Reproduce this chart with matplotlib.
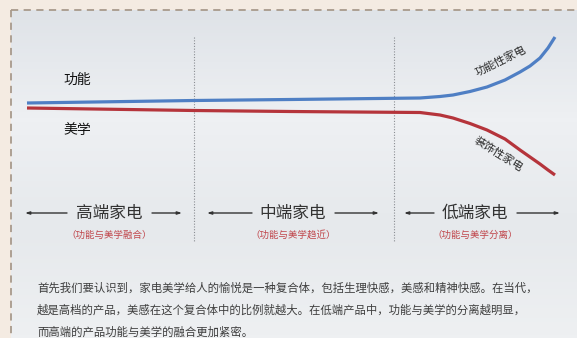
import numpy as np
import matplotlib.pyplot as plt
from matplotlib.colors import LinearSegmentedColormap

plt.rcParams['font.family'] = ['Noto Sans CJK SC', 'DejaVu Sans']

# curves (x along the timeline, y downwards like the picture)
x_func = [27, 194, 290, 420, 440, 453, 470, 487, 505, 520, 530, 540, 548, 555]
y_func = [103, 100.5, 99.5, 98, 96.5, 95, 91.5, 87, 80, 72, 66, 58, 48, 37]
x_aes = [27, 194, 290, 420, 440, 453, 470, 487, 505, 520, 530, 540, 548, 555]
y_aes = [108, 110.5, 111.5, 112.5, 115, 118, 123.5, 130, 139, 150, 157, 164, 170, 175]

segments = ['高端家电', '中端家电', '低端家电']
sublabels = ['（功能与美学融合）', '（功能与美学趋近）', '（功能与美学分离）']
seg_centers = [109, 293, 475]
arrows_left = [(25, 67), (207, 252), (404, 434)]
arrows_right = [(152, 182), (335, 379), (517, 560)]
dividers = [194, 394]

body = ['首先我们要认识到，家电美学给人的愉悦是一种复合体，包括生理快感，美感和精神快感。在当代，',
        '越是高档的产品，美感在这个复合体中的比例就越大。在低端产品中，功能与美学的分离越明显，',
        '而高端的产品功能与美学的融合更加紧密。']

fig = plt.figure(figsize=(5.77, 3.38), dpi=100)
fig.patch.set_facecolor('#f4ebe2')
ax = fig.add_axes([0, 0, 1, 1])
ax.set_xlim(0, 577)
ax.set_ylim(338, 0)
ax.axis('off')

# panel background, soft vertical gradient
cmap = LinearSegmentedColormap.from_list('bg', ['#dfe3e8', '#eef0f3', '#e6e9ec', '#eef0f2'])
grad = np.linspace(0, 1, 100).reshape(-1, 1)
ax.imshow(grad, cmap=cmap, extent=(11, 577, 338, 10), aspect='auto', zorder=0)

# dashed border
ax.plot([11, 577], [10, 10], color='#a89a8c', lw=1.3, dashes=(4, 3), zorder=1)
ax.plot([11, 11], [10, 338], color='#a89a8c', lw=1.3, dashes=(4, 3), zorder=1)

# dotted dividers
for d in dividers:
    ax.plot([d, d], [37, 242], color='#8a8d92', lw=0.8, ls=(0, (1, 1.5)), zorder=2)

ax.plot(x_func, y_func, color='#4f7fc4', lw=2.3, solid_capstyle='butt', solid_joinstyle='round', zorder=3)
ax.plot(x_aes, y_aes, color='#b5343b', lw=2.3, solid_capstyle='butt', solid_joinstyle='round', zorder=3)

ax.text(77, 80, '功能', fontsize=10, color='#111111', ha='center', va='center')
ax.text(77, 130, '美学', fontsize=10, color='#111111', ha='center', va='center')
ax.text(501, 61, '功能性家电', fontsize=8, color='#2a2a2a', ha='center', va='center', rotation=26)
ax.text(499, 154, '装饰性家电', fontsize=8, color='#2a2a2a', ha='center', va='center', rotation=-32)

arrow_kw = dict(arrowstyle='-|>,head_length=0.25,head_width=0.08', color='#333333', lw=1.0,
                shrinkA=0, shrinkB=0)
for name, sub, cx, (l0, l1), (r0, r1) in zip(segments, sublabels, seg_centers, arrows_left, arrows_right):
    ax.text(cx, 213, name, fontsize=12, color='#333333', ha='center', va='center')
    ax.text(cx, 235, sub, fontsize=6.8, color='#c0454a', ha='center', va='center')
    ax.annotate('', xy=(l0, 213), xytext=(l1, 213), arrowprops=arrow_kw)
    ax.annotate('', xy=(r1, 213), xytext=(r0, 213), arrowprops=arrow_kw)

for i, line in enumerate(body):
    ax.text(37, 288 + 22 * i, line, fontsize=8.2, color='#3f3f3f', ha='left', va='center')

fig.savefig('out.png', dpi=100, facecolor=fig.get_facecolor())
